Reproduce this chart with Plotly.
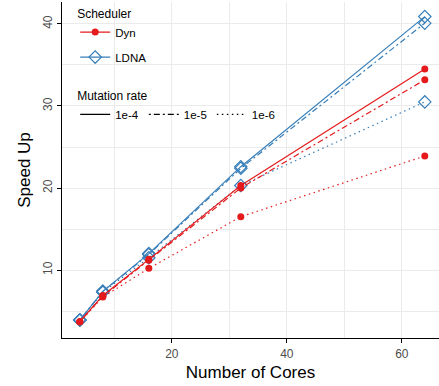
import plotly.graph_objects as go

cores = [4, 8, 16, 32, 64]
dyn_1e4 = [3.7, 6.9, 11.3, 20.3, 34.5]
dyn_1e5 = [3.7, 6.8, 11.2, 20.0, 33.2]
dyn_1e6 = [3.7, 6.7, 10.2, 16.5, 23.9]
ldna_1e4 = [3.9, 7.4, 12.0, 22.6, 40.9]
ldna_1e5 = [3.9, 7.4, 11.9, 22.4, 40.1]
ldna_1e6 = [3.9, 7.3, 11.5, 20.3, 30.5]

RED = "#E41A1C"
BLUE = "#377EB8"
FONT = "Liberation Sans, Arial, sans-serif"
DOT = "1.5px,3.5px"
DASHDOT = "2px,3px,6px,3px"

fig = go.Figure()

series = [
    ("LDNA", "1e-6", ldna_1e6, BLUE, DOT),
    ("LDNA", "1e-5", ldna_1e5, BLUE, DASHDOT),
    ("LDNA", "1e-4", ldna_1e4, BLUE, "solid"),
    ("Dyn", "1e-6", dyn_1e6, RED, DOT),
    ("Dyn", "1e-5", dyn_1e5, RED, DASHDOT),
    ("Dyn", "1e-4", dyn_1e4, RED, "solid"),
]
for sched, rate, ys, col, dash in series:
    if sched == "Dyn":
        marker = dict(symbol="circle", size=7, color=col)
    else:
        marker = dict(symbol="diamond-open", size=9.5, color=col, line=dict(width=1.2, color=col))
    fig.add_trace(go.Scatter(x=cores, y=ys, mode="lines+markers",
                             line=dict(color=col, width=1.2, dash=dash),
                             marker=marker, showlegend=False))

# Legend: Scheduler
fig.add_trace(go.Scatter(x=[None], y=[None], mode="lines+markers", name="Dyn",
                         line=dict(color=RED, width=1.2),
                         marker=dict(symbol="circle", size=7, color=RED),
                         legend="legend", legendgroup="a"))
fig.add_trace(go.Scatter(x=[None], y=[None], mode="lines+markers", name="LDNA",
                         line=dict(color=BLUE, width=1.2),
                         marker=dict(symbol="diamond-open", size=9.5, color=BLUE, line=dict(width=1.2, color=BLUE)),
                         legend="legend", legendgroup="b"))
# Legend: Mutation rate
for rate, dash in [("1e-4", "solid"), ("1e-5", DASHDOT), ("1e-6", DOT)]:
    fig.add_trace(go.Scatter(x=[None], y=[None], mode="lines", name=rate,
                             line=dict(color="black", width=1.3, dash=dash),
                             legend="legend2"))

axis_common = dict(
    showline=True, linecolor="black", linewidth=1.2,
    ticks="outside", ticklen=4, tickcolor="black", tickwidth=1.2,
    tickfont=dict(family=FONT, size=12, color="#4D4D4D"),
    showgrid=True, gridcolor="#EBEBEB", gridwidth=1.1,
    zeroline=False, mirror=False,
)

fig.update_layout(
    width=439, height=386,
    margin=dict(l=62, r=0, t=2, b=48),
    paper_bgcolor="white", plot_bgcolor="white",
    font=dict(family=FONT, color="black"),
    xaxis=dict(**axis_common, range=[0.9, 66.47], tick0=0, dtick=20,
               minor=dict(dtick=10, showgrid=True, gridcolor="#EBEBEB", gridwidth=0.6, ticks=""),
               title=dict(text="Number of Cores", font=dict(family=FONT, size=17, color="black"), standoff=6)),
    yaxis=dict(**axis_common, range=[1.71, 42.68], tick0=0, dtick=10, tickangle=-90,
               minor=dict(dtick=5, showgrid=True, gridcolor="#EBEBEB", gridwidth=0.6, ticks=""),
               title=dict(text="Speed Up", font=dict(family=FONT, size=17, color="black"), standoff=6)),
    legend=dict(x=0.035, y=1.0, xanchor="left", yanchor="top",
                bgcolor="rgba(0,0,0,0)", font=dict(family=FONT, size=11.5),
                title=dict(text="Scheduler", font=dict(family=FONT, size=12)),
                tracegroupgap=6, itemwidth=30),
    legend2=dict(x=0.035, y=0.755, xanchor="left", yanchor="top", orientation="h",
                 bgcolor="rgba(0,0,0,0)", font=dict(family=FONT, size=11.5),
                 title=dict(text="Mutation rate", font=dict(family=FONT, size=12), side="top"),
                 itemwidth=30),
)

fig.write_html("out.html")
